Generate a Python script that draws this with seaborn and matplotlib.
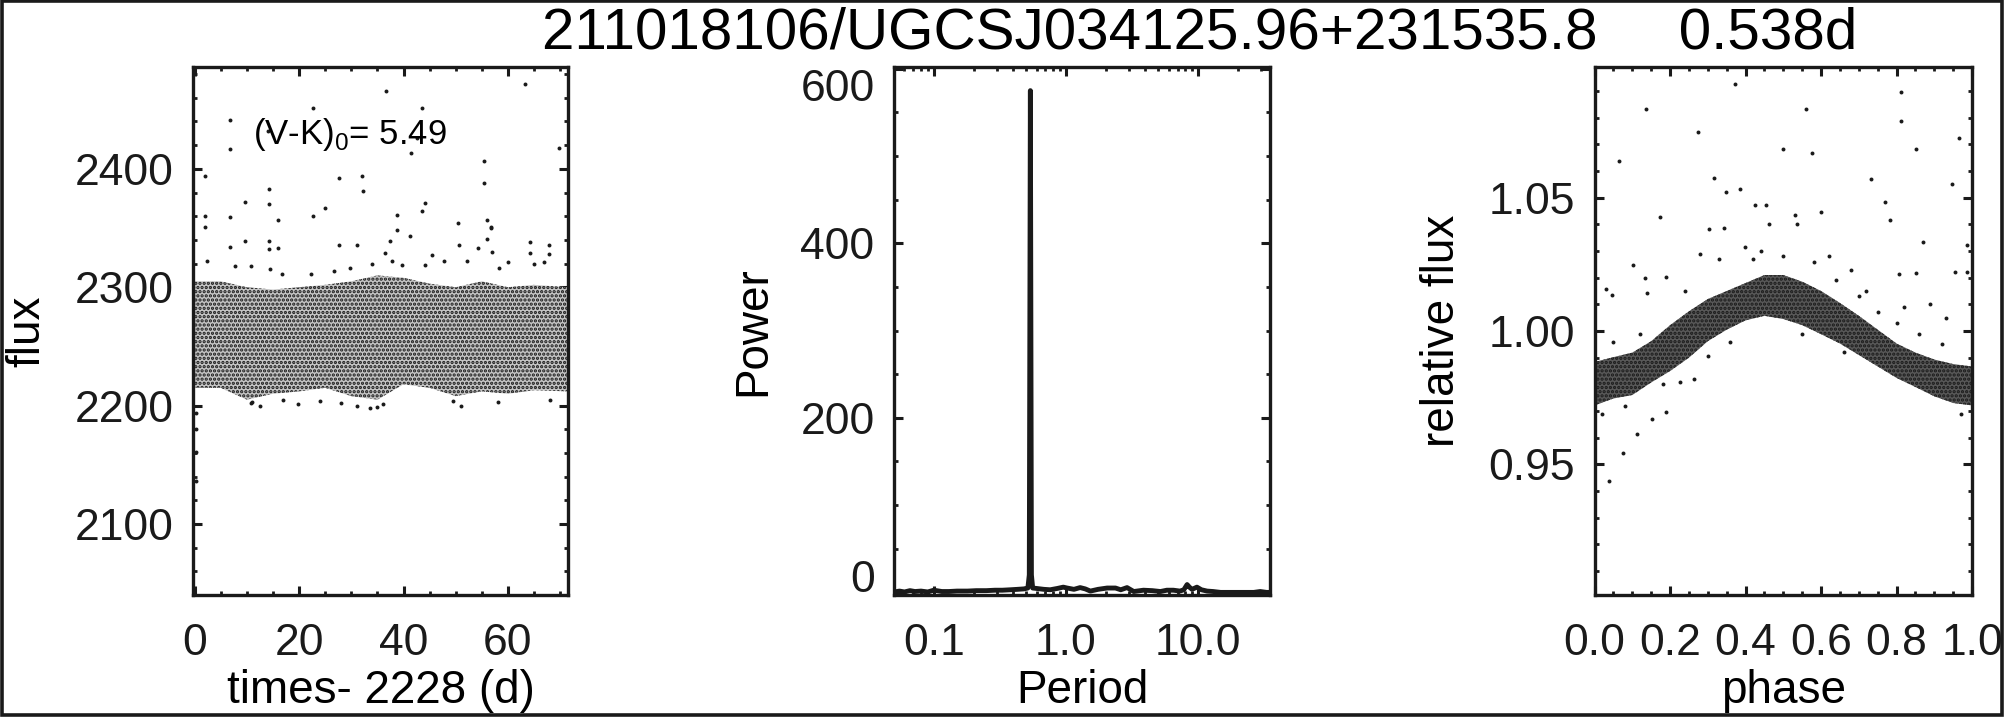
import matplotlib
matplotlib.use('Agg')
import matplotlib.pyplot as plt
import seaborn as sns
from matplotlib.ticker import MultipleLocator, FixedLocator, FuncFormatter, NullFormatter

# ---- light curve (left panel) ----
# dense band of points: upper / lower edge of the cloud
lc_t = [0, 5, 10, 15, 20, 25, 30, 35, 40, 45, 50, 55, 60, 65, 71.5]
lc_hi = [2305, 2305, 2300, 2298, 2300, 2302, 2305, 2310, 2308, 2303, 2300, 2305, 2300, 2302, 2300]
lc_lo = [2215, 2215, 2205, 2210, 2212, 2215, 2208, 2205, 2218, 2215, 2208, 2212, 2210, 2213, 2212]
# stray points outside the band
out_t = [6.7, 6.8, 14.0, 22.7, 36.7, 43.6, 42.5, 41.5, 63.2, 69.7, 1.9, 14.2, 27.7, 32.1, 32.3,
         55.5, 55.5, 9.6, 14.2, 24.9, 44.1, 43.6, 1.9, 1.9, 6.8, 16.0, 22.7, 38.8, 38.8, 50.5,
         55.9, 56.8, 41.3, 55.9, 64.3, 64.3, 67.8, 67.8, 9.6, 6.8, 14.2, 14.2, 16.0, 27.6, 31.0,
         37.4, 36.5, 45.5, 50.6, 54.3, 57.0, 56.8, 0.3, 0.3, 0.3, 0.2, 10.7, 19.8, 33.5, 35.0,
         2.4, 7.8, 10.7, 14.4, 16.8, 22.2, 26.6, 29.8, 34.0, 37.8, 39.7, 44.2, 47.7, 52.2,
         58.2, 60.1, 65.0, 66.9, 11.0, 12.5, 17.0, 24.0, 28.0, 31.0, 36.0, 49.5, 51.0, 58.0, 68.0]
out_flux = [2441, 2417, 2432, 2451, 2466, 2451, 2426, 2413, 2472, 2418, 2394, 2383, 2392, 2394, 2381,
            2407, 2388, 2372, 2370, 2367, 2371, 2364, 2360, 2351, 2359, 2357, 2360, 2361, 2348, 2354,
            2357, 2350, 2343, 2341, 2338, 2329, 2336, 2328, 2339, 2334, 2339, 2332, 2333, 2336, 2336,
            2339, 2329, 2327, 2336, 2333, 2330, 2351, 2194, 2161, 2136, 2180, 2202, 2201, 2198, 2199,
            2322, 2318, 2318, 2315, 2311, 2311, 2314, 2316, 2320, 2322, 2319, 2319, 2322, 2322,
            2316, 2321, 2320, 2321, 2203, 2200, 2205, 2204, 2202, 2200, 2201, 2204, 2200, 2203, 2205]

# ---- periodogram (middle panel) ----
per = [0.050, 0.055, 0.060, 0.066, 0.072, 0.080, 0.090, 0.100, 0.115, 0.13, 0.15, 0.18, 0.21,
       0.25, 0.29, 0.33, 0.38, 0.43, 0.48, 0.515, 0.528, 0.538, 0.548, 0.56, 0.60, 0.68, 0.76,
       0.86, 0.955, 1.02, 1.15, 1.28, 1.40, 1.53, 1.75, 2.05, 2.37, 2.6, 2.9, 3.26, 3.86, 4.5,
       5.19, 5.8, 6.5, 7.3, 7.8, 8.26, 8.6, 9.0, 9.8, 10.6, 11.7, 13.0, 14.8, 17.0, 19.8, 23.0,
       26.4, 29.5, 33.0, 35.0]
pw = [0.5, 1.5, 0.5, 2.0, 1.0, 1.5, 0.5, 2.5, 1.0, 1.0, 1.5, 1.5, 2.0,
      2.0, 2.5, 2.5, 3.0, 3.5, 4.0, 5.0, 20, 575, 20, 5.0, 4.5, 3.5, 3.0,
      4.5, 6.0, 5.0, 3.5, 5.5, 4.0, 1.5, 3.5, 5.0, 5.0, 3.0, 5.5, 1.0, 2.5, 2.0,
      1.0, 2.5, 2.5, 1.5, 3.0, 9.0, 6.0, 3.5, 6.0, 3.0, 1.5, 1.0, 0.0, 0.0, 0.0, 0.0,
      0.0, 1.0, 0.0, 0.0]
pw_ticks = [0, 200, 400, 600]

# ---- phase folded curve (right panel) ----
ph = [0, 0.05, 0.1, 0.15, 0.2, 0.25, 0.3, 0.35, 0.4, 0.45, 0.5, 0.55, 0.6, 0.65, 0.7,
      0.75, 0.8, 0.85, 0.9, 0.95, 1.0]
ph_hi = [0.9884, 0.9902, 0.9919, 0.9962, 1.0022, 1.0074, 1.0120, 1.0150, 1.0180, 1.0210, 1.0210,
         1.0185, 1.0150, 1.0105, 1.0057, 1.0005, 0.9953, 0.9919, 0.9893, 0.9876, 0.9867]
ph_lo = [0.9721, 0.9747, 0.9760, 0.9807, 0.9850, 0.9900, 0.9962, 1.0005, 1.0040, 1.0057, 1.0045,
         1.0022, 0.9988, 0.9953, 0.9910, 0.9867, 0.9824, 0.9790, 0.9755, 0.9730, 0.9721]
ph_out_x = [0.371, 0.135, 0.811, 0.560, 0.812, 0.065, 0.273, 0.966, 0.498, 0.576, 0.851, 0.315,
            0.348, 0.385, 0.733, 0.946, 0.174, 0.425, 0.455, 0.461, 0.530, 0.599, 0.770, 0.783,
            0.303, 0.343, 0.536, 0.871, 0.987, 0.278, 0.399, 0.955, 0.101, 0.133, 0.189, 0.031,
            0.045, 0.138, 0.807, 0.852, 0.987, 0.820, 0.888, 0.264, 0.225, 0.189, 0.153, 0.112,
            0.076, 0.038, 0.24, 0.33, 0.44, 0.62, 0.68, 0.72, 0.93,
            0.02, 0.08, 0.18, 0.30, 0.36, 0.42, 0.50, 0.58, 0.64, 0.70, 0.75, 0.80, 0.86, 0.92,
            0.97, 0.66, 0.55, 0.12, 0.05]
ph_out_y = [1.0928, 1.0833, 1.0897, 1.0833, 1.0786, 1.0638, 1.0747, 1.0724, 1.0681, 1.0666,
            1.0683, 1.0574, 1.0522, 1.0531, 1.0569, 1.0553, 1.0428, 1.0474, 1.0471, 1.0402,
            1.0436, 1.0445, 1.0483, 1.0416, 1.0384, 1.0388, 1.0402, 1.0333, 1.0321, 1.0290,
            1.0316, 1.0220, 1.0247, 1.0198, 1.0202, 1.0157, 1.0134, 1.0143, 1.0212, 1.0216,
            1.0221, 1.0091, 1.0100, 0.9819, 0.9807, 0.9695, 0.9669, 0.9612, 0.9543, 0.9436,
            1.0150, 1.0270, 1.0300, 1.0280, 1.0230, 1.0150, 1.0050,
            0.9690, 0.9720, 0.9800, 0.9905, 0.9960, 1.0270, 1.0280, 1.0260, 1.0190, 1.0130,
            1.0070, 1.0030, 0.9990, 0.9950, 0.9690, 0.9920, 0.9990, 0.9990, 0.9960]

title = "211018106/UGCSJ034125.96+231535.8     0.538d"
vk_text = r"(V-K)$_\mathregular{0}$= 5.49"

sns.set_theme(style='ticks')
plt.rcParams['font.family'] = ['Liberation Sans', 'DejaVu Sans']
plt.rcParams['mathtext.fontset'] = 'custom'
plt.rcParams['mathtext.rm'] = 'Liberation Sans'
plt.rcParams['axes.linewidth'] = 2.4
plt.rcParams['hatch.linewidth'] = 1.6
for k in ['axes.edgecolor', 'text.color', 'axes.labelcolor', 'xtick.color', 'ytick.color']:
    plt.rcParams[k] = 'black'

fig = plt.figure(figsize=(20.05, 7.2), dpi=100)
ax1 = fig.add_axes([0.0963, 0.1736, 0.187, 0.7333])
ax2 = fig.add_axes([0.4459, 0.1736, 0.1875, 0.7333])
ax3 = fig.add_axes([0.7953, 0.1736, 0.1883, 0.7333])


def style(ax):
    ax.tick_params(which='both', direction='in', top=True, right=True, colors='k',
                   labelsize=32)
    ax.tick_params(which='major', length=6.5, width=2.2)
    ax.tick_params(which='minor', length=3.2, width=2.0)
    ax.tick_params(axis='x', which='both', pad=20)
    ax.tick_params(axis='y', which='both', pad=14)
    for s in ax.spines.values():
        s.set_linewidth(2.4)
        s.set_color('k')


# left: light curve
ax1.fill_between(lc_t, lc_lo, lc_hi, facecolor='#c4c4c4', edgecolor='k', hatch='....', linewidth=0)
sns.scatterplot(x=out_t, y=out_flux, ax=ax1, color='k', s=8, linewidth=0)
ax1.set_xlim(-0.3, 71.5)
ax1.set_ylim(2040, 2486)
ax1.xaxis.set_major_locator(MultipleLocator(20))
ax1.xaxis.set_minor_locator(MultipleLocator(5))
ax1.yaxis.set_major_locator(MultipleLocator(100))
ax1.yaxis.set_minor_locator(MultipleLocator(20))
ax1.set_xlabel('times- 2228 (d)', fontsize=33, labelpad=4)
ax1.set_ylabel('flux', fontsize=33, labelpad=18)
ax1.text(0.161, 0.854, vk_text, transform=ax1.transAxes, fontsize=25, va='baseline', ha='left')
style(ax1)

# middle: periodogram
ax2.set_xscale('log')
sns.lineplot(x=per, y=pw, ax=ax2, color='k', lw=3.5, estimator=None, sort=False)
ax2.set_xlim(0.05, 35)
ax2.set_ylim(-3, 602)
ax2.xaxis.set_major_locator(FixedLocator([0.1, 1.0, 10.0]))
ax2.xaxis.set_major_formatter(FuncFormatter(lambda v, p: '%.1f' % v))
ax2.xaxis.set_minor_locator(FixedLocator([k * 10.0 ** e for e in (-2, -1, 0, 1) for k in range(2, 10)]))
ax2.xaxis.set_minor_formatter(NullFormatter())
ax2.yaxis.set_major_locator(FixedLocator(pw_ticks))
ax2.yaxis.set_minor_locator(MultipleLocator(50))
ax2.set_xlabel('Period', fontsize=33, labelpad=4)
ax2.set_ylabel('Power', fontsize=33, labelpad=18)
style(ax2)

# right: phased light curve
ax3.fill_between(ph, ph_lo, ph_hi, facecolor='#585858', edgecolor='k', hatch='....', linewidth=0)
sns.scatterplot(x=ph_out_x, y=ph_out_y, ax=ax3, color='k', s=8, linewidth=0)
ax3.set_xlim(0, 1)
ax3.set_ylim(0.901, 1.099)
ax3.xaxis.set_major_locator(MultipleLocator(0.2))
ax3.xaxis.set_minor_locator(MultipleLocator(0.05))
ax3.xaxis.set_major_formatter(FuncFormatter(lambda v, p: '%.1f' % v))
ax3.yaxis.set_major_locator(MultipleLocator(0.05))
ax3.yaxis.set_minor_locator(MultipleLocator(0.01))
ax3.yaxis.set_major_formatter(FuncFormatter(lambda v, p: '%.2f' % v))
ax3.set_xlabel('phase', fontsize=33, labelpad=4)
ax3.set_ylabel('relative flux', fontsize=33, labelpad=18)
style(ax3)

fig.text(0.2702, 0.932, title, fontsize=42, ha='left', va='baseline')

# frame around the whole figure
fig.add_artist(plt.Rectangle((0.0008, 0.007), 0.9975, 0.991, transform=fig.transFigure,
                             fill=False, edgecolor='k', linewidth=2.6))

# end labels of the power axis sit inside the axis box, as in the original
fig.canvas.draw()
yt = ax2.yaxis.get_major_ticks()
yt[0].label1.set_verticalalignment('baseline')
yt[-1].label1.set_verticalalignment('top')

fig.savefig('out.png', dpi=100)
